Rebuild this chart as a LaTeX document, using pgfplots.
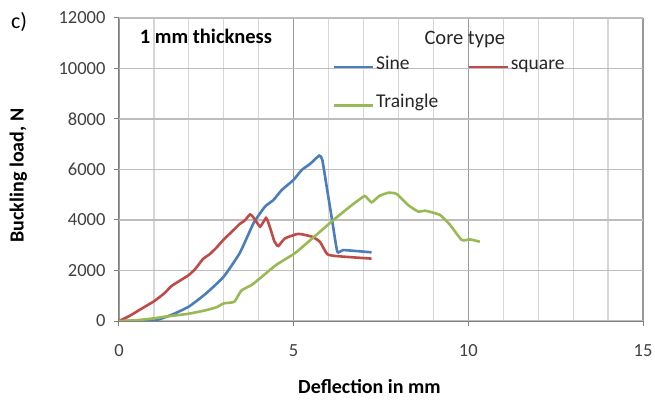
\documentclass[border=0pt]{standalone}
\usepackage{fontspec}
\setmainfont{Carlito}
\usepackage{pgfplots}
\pgfplotsset{compat=1.18}
\definecolor{sineblue}{HTML}{4A7EBB}
\definecolor{sqred}{HTML}{BE4B48}
\definecolor{trigreen}{HTML}{98B954}
\definecolor{ticktext}{HTML}{404040}
\begin{document}
\begin{tikzpicture}
\useasboundingbox (-119bp,-79bp) rectangle (536bp,321bp);
\begin{axis}[
  at={(0,0)}, anchor=south west,
  scale only axis, width=524bp, height=303bp,
  xmin=0, xmax=15, ymin=0, ymax=12000,
  xtick={0,5,10,15}, minor xtick={1,2,3,4,6,7,8,9,11,12,13,14},
  ytick={0,2000,4000,6000,8000,10000,12000},
  scaled y ticks=false,
  /pgf/number format/assume math mode=true,
  yticklabel={\pgfmathprintnumber[fixed,precision=0,1000 sep={}]{\tick}},
  xticklabel={\pgfmathprintnumber[fixed,precision=0]{\tick}},
  tick label style={font=\fontsize{18.5bp}{22bp}\selectfont, text=ticktext},
  xticklabel style={yshift=-15bp},
  yticklabel style={xshift=-5bp},
  axis x line*=bottom, axis y line*=left,
  axis line style={draw=black!50, line width=1bp, -},
  tick align=outside, major tick length=5bp, minor tick length=0pt,
  tick style={draw=black!50, line width=1bp},
  grid=both,
  minor grid style={draw=black!16, line width=1.2bp},
  major grid style={draw=black!26, line width=1.2bp},
  major x grid style={draw=black!40, line width=1.2bp},
  xlabel={\textbf{Deflection in mm}},
  ylabel={\textbf{Buckling load, N}},
  label style={font=\fontsize{20bp}{24bp}\selectfont},
  xlabel style={at={(axis description cs:0.478,-0.215)}, anchor=center},
  ylabel style={at={(axis description cs:-0.192,0.48)}, anchor=center, rotate=0},
  legend columns=2,
  legend cell align=left,
  legend style={at={(axis cs:6.127,9300)}, anchor=west, draw=none, fill=none,
    inner sep=0pt, outer sep=0pt,
    font=\fontsize{19.5bp}{23bp}\selectfont, text=black!85,
    row sep=26bp,
    nodes={inner sep=1.5bp, text height=0.7em, text depth=0.22em},
    /tikz/every even column/.append style={column sep=28bp}},
  legend image code/.code={\draw[#1, line width=2.6bp] (0bp,0bp) -- (39bp,0bp);},
]
\addplot[sineblue, line width=2.6bp, smooth, tension=0.3] coordinates {
(0,0) (0.5,0) (1.0,10) (1.5,240) (2,570) (2.5,1100) (3,1760) (3.46,2700)
(3.85,3870) (4.18,4530) (4.42,4790) (4.66,5190) (4.99,5580) (5.23,5980)
(5.47,6220) (5.73,6550) (5.82,6380) (5.96,5190) (6.1,4000) (6.25,2745)
(6.42,2810) (7.23,2720)};
\addplot[sqred, line width=2.6bp, smooth, tension=0.3] coordinates {
(0,0) (0.3,200) (0.6,450) (1,780) (1.3,1100) (1.5,1380) (1.7,1560) (2,1820)
(2.2,2090) (2.4,2450) (2.6,2650) (2.8,2920) (3,3230) (3.3,3630) (3.46,3850)
(3.6,3980) (3.75,4220) (3.85,4100) (4.04,3740) (4.21,4080) (4.3,3800)
(4.45,3150) (4.56,2970) (4.75,3270) (5.13,3450) (5.52,3340) (5.75,3140)
(5.96,2650) (6.23,2570) (7.23,2470)};
\addplot[trigreen, line width=2.6bp, smooth, tension=0.3] coordinates {
(0,0) (0.5,30) (1,105) (1.3,170) (1.5,200) (2,290) (2.5,430) (2.8,550)
(3,700) (3.3,760) (3.5,1200) (3.8,1430) (4,1650) (4.5,2220) (5,2650)
(5.18,2850) (5.5,3230) (6.14,4000) (6.61,4530) (6.85,4780) (7.04,4950)
(7.23,4700) (7.45,4950) (7.71,5080) (7.95,5030) (8.28,4590) (8.57,4330)
(8.76,4370) (9.19,4200) (9.48,3800) (9.81,3210) (10.05,3230) (10.33,3140)};
\legend{Sine, square, Traingle}
\node[font=\bfseries\fontsize{20.5bp}{24bp}\selectfont, anchor=center] at (axis description cs:0.166,0.94) {1 mm thickness};
\node[font=\fontsize{20.5bp}{24bp}\selectfont, text=black!85, anchor=center] at (axis description cs:0.66,0.93) {Core type};
\end{axis}
\node[font=\fontsize{22bp}{26bp}\selectfont, anchor=center] at (-100bp,299bp) {c)};
\end{tikzpicture}
\end{document}
